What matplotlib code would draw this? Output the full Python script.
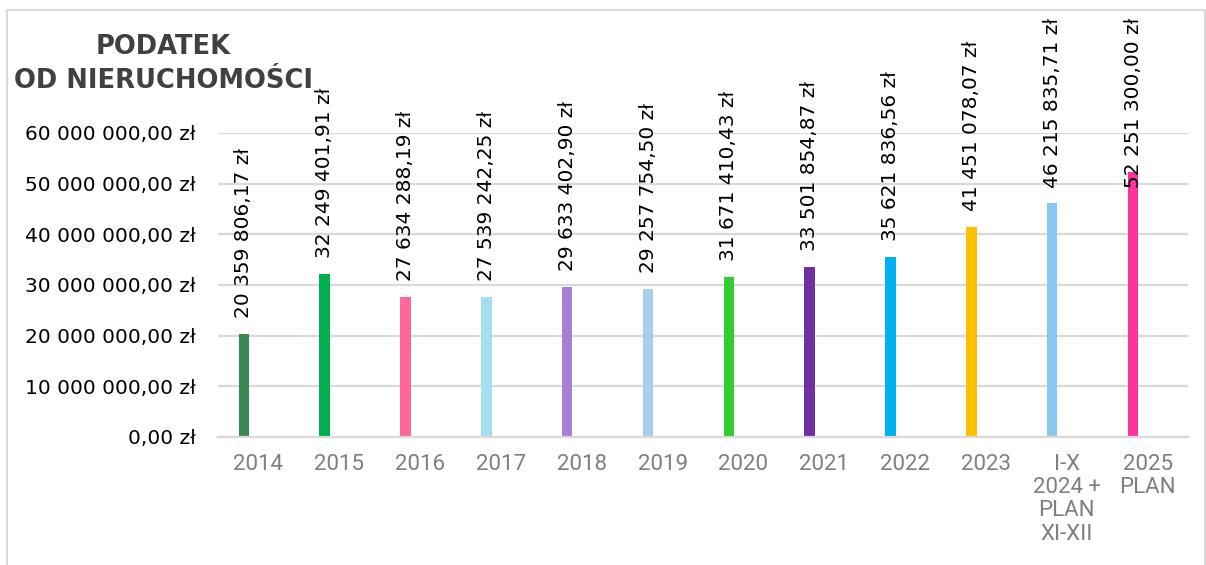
import matplotlib
matplotlib.use('Agg')
import matplotlib.pyplot as plt
import matplotlib.patches as patches

# Data
categories = ['2014', '2015', '2016', '2017', '2018', '2019', '2020', '2021',
              '2022', '2023', 'I-X\n2024 +\nPLAN\nXI-XII', '2025\nPLAN']
values = [20359806.17, 32249401.91, 27634288.19, 27539242.25, 29633402.90,
          29257754.50, 31671410.43, 33501854.87, 35621836.56, 41451078.07,
          46215835.71, 52251300.00]
bar_colors = ['#3C8653', '#00B050', '#FF6699', '#A6DDF2', '#A97FD6', '#A8CFEE',
              '#33CC33', '#7030A0', '#00B0F0', '#FFC000', '#88C8EE', '#FF3399']
y_ticks = [0, 10e6, 20e6, 30e6, 40e6, 50e6, 60e6]
title = 'PODATEK\nOD NIERUCHOMOŚCI'


def pln(v):
    s = f"{v:,.2f}".replace(',', ' ').replace('.', ',')
    return s + ' zł'


W, H = 1206, 565
fig = plt.figure(figsize=(W / 100, H / 100), dpi=100)
fig.patch.set_facecolor('white')

# chart border
border = patches.Rectangle((7 / W, -0.05), (1205 - 7) / W, (H - 10) / H + 0.05,
                           transform=fig.transFigure, fill=False,
                           edgecolor='#D9D9D9', linewidth=1.5, clip_on=False)
fig.patches.append(border)

ax = fig.add_axes([218 / W, (H - 437) / H, 970 / W, 304 / H])

n = len(categories)
xs = list(range(n))
bar_x = [x - 0.18 for x in xs]
ax.bar(bar_x, values, width=0.13, color=bar_colors, zorder=3)

ax.set_xlim(-0.5, n - 0.5)
ax.set_ylim(0, 60e6)
ax.set_yticks(y_ticks)
ax.set_yticklabels([pln(v) for v in y_ticks], fontsize=14.5, color='black',
                   family='DejaVu Sans')
ax.set_xticks(xs)
ax.set_xticklabels(categories, fontsize=16, color='#7F7F7F', family='Roboto',
                   linespacing=1.15, va='top')
ax.tick_params(axis='both', length=0)
ax.tick_params(axis='y', pad=16)
ax.tick_params(axis='x', pad=12)
ax.grid(axis='y', color='#D9D9D9', linewidth=1.6, zorder=0)
for s in ['top', 'right', 'left']:
    ax.spines[s].set_visible(False)
ax.spines['bottom'].set_color('#D9D9D9')
ax.spines['bottom'].set_linewidth(1.6)
ax.spines['bottom'].set_zorder(4)

# data labels (rotated, above bars, kept inside the chart area)
labels = []
for bx, v in zip(bar_x, values):
    t = ax.text(bx, v, pln(v), rotation=90, ha='center', va='bottom',
                fontsize=14.5, color='black', family='DejaVu Sans', zorder=5)
    labels.append((t, bx, v))

fig.text(163 / W, 1 - 64 / H, title, ha='center', va='center',
         fontsize=18.5, fontweight='bold', color='#404040',
         family='DejaVu Sans', linespacing=1.4)

fig.canvas.draw()
renderer = fig.canvas.get_renderer()
top_limit = H - 18
for t, bx, v in labels:
    ext = t.get_window_extent(renderer)
    length = ext.height
    bx_disp, by_disp = ax.transData.transform((bx, v))
    bottom = by_disp + 16
    if bottom + length > top_limit:
        bottom = top_limit - length
    _, ny = ax.transData.inverted().transform((bx_disp, bottom))
    t.set_position((bx, ny))

fig.savefig('out.png', dpi=100)
